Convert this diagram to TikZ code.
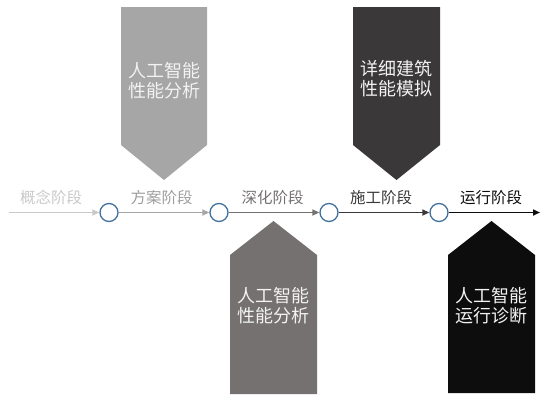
\documentclass[tikz,border=0pt]{standalone}
\usepackage{fontspec}
\setmainfont{Noto Sans CJK SC}
\usetikzlibrary{arrows.meta}
\definecolor{cA}{HTML}{C9C9C9}
\definecolor{cB}{HTML}{A6A6A6}
\definecolor{cC}{HTML}{767171}
\definecolor{cD}{HTML}{3A3838}
\definecolor{cE}{HTML}{0D0D0D}
\definecolor{ring}{HTML}{41719C}
\definecolor{boxtext}{HTML}{F2F2F2}
\tikzset{
  stage/.style={circle,draw=ring,fill=white,line width=1.3pt,minimum size=18pt,inner sep=0pt},
  seg/.style={line width=1.6pt,-{Triangle[length=7pt,width=6pt]}},
  stagelabel/.style={font=\fontsize{15.5pt}{17pt}\selectfont,inner sep=0pt,anchor=center},
  boxlabel/.style={font=\fontsize{18pt}{20.5pt}\selectfont,text=boxtext,align=center,inner sep=0pt}
}
\begin{document}
\begin{tikzpicture}[x=1pt,y=-1pt]
\useasboundingbox (0,0) rectangle (547,400);
% pentagons
\fill[cB] (121,7) -- (207,7) -- (207,145) -- (164,180) -- (121,145) -- cycle;
\fill[cD] (353,7) -- (440,7) -- (440,145) -- (396.5,180) -- (353,145) -- cycle;
\fill[cC] (273.5,221) -- (317,255) -- (317,394) -- (230,394) -- (230,255) -- cycle;
\fill[cE] (491.5,221) -- (535,255) -- (535,393) -- (448,393) -- (448,255) -- cycle;
\node[boxlabel] (t1) at (164.5,80.5) {人工智能\\性能分析};
\node[boxlabel] (t2) at (396.5,78.5) {详细建筑\\性能模拟};
\node[boxlabel] (t3) at (273.5,305.5) {人工智能\\性能分析};
\node[boxlabel] (t4) at (491.5,305.5) {人工智能\\运行诊断};
% axis
\coordinate (s) at (9,212.5);
\coordinate (e) at (540,212.5);
\node[stage] (c1) at (109,212.5) {};
\node[stage] (c2) at (219,212.5) {};
\node[stage] (c3) at (329,212.5) {};
\node[stage] (c4) at (439,212.5) {};
\draw[seg,cA] (s) -- (c1);
\draw[seg,cB] (c1) -- (c2);
\draw[seg,cC] (c2) -- (c3);
\draw[seg,cD] (c3) -- (c4);
\draw[seg,cE] (c4) -- (e);
% labels
\node[stagelabel,text=cA] (l1) at (51,197.5) {概念阶段};
\node[stagelabel,text=cB!95!black] (l2) at (161.5,197.5) {方案阶段};
\node[stagelabel,text=cC] (l3) at (272.5,197.5) {深化阶段};
\node[stagelabel,text=cD] (l4) at (381,197.5) {施工阶段};
\node[stagelabel,text=cE] (l5) at (491,197.5) {运行阶段};
\end{tikzpicture}
\end{document}
